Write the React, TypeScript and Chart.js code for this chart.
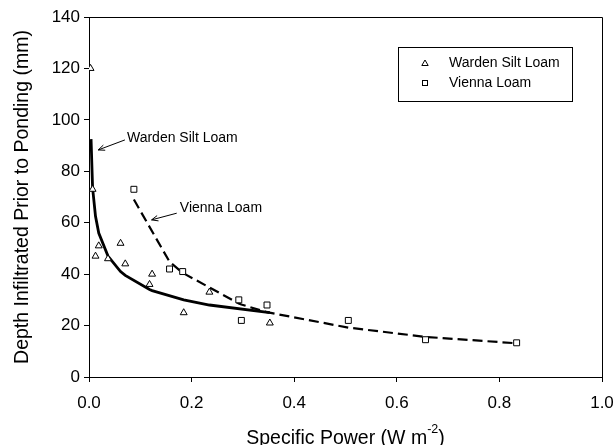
import React, { useEffect, useRef } from "react";
import { Chart, registerables } from "chart.js";

Chart.register(...registerables);

const FONT = "'Liberation Sans', Arial, sans-serif";

// Observed data
const wardenX = [0.003, 0.007, 0.0127, 0.019, 0.037, 0.0615, 0.0707, 0.118, 0.123, 0.1846, 0.2347, 0.3525];
const wardenY = [120, 73, 47, 51, 46, 52, 44, 36, 40, 25, 33, 21];
const viennaX = [0.0875, 0.157, 0.1826, 0.292, 0.297, 0.347, 0.5055, 0.656, 0.8336];
const viennaY = [73, 42, 41, 30, 22, 28, 22, 14.5, 13.3];

// Fitted curves
const wardenFitX = [0.004, 0.007, 0.0127, 0.019, 0.037, 0.0615, 0.0707, 0.118, 0.123, 0.1846, 0.2347, 0.3525];
const wardenFitY = [92.5, 73.5, 62.5, 56, 47, 41, 39.5, 34, 33.6, 30, 28, 25];
const viennaFitX = [0.0875, 0.157, 0.1826, 0.292, 0.297, 0.347, 0.5055, 0.656, 0.8336];
const viennaFitY = [69, 44.8, 40.5, 28.6, 28.2, 25.2, 19.2, 15.6, 13.1];

const seriesLabels = ["Warden Silt Loam", "Vienna Loam"];
const xTickLabels = ["0.0", "0.2", "0.4", "0.6", "0.8", "1.0"];
const yTickLabels = ["0", "20", "40", "60", "80", "100", "120", "140"];

// Annotation callouts (data units): text anchor, arrow tail, arrow tip
const calloutText = ["Warden Silt Loam", "Vienna Loam"];
const calloutTextX = [0.074, 0.177];
const calloutTextY = [93, 65.7];
const calloutTailX = [0.070, 0.171];
const calloutTailY = [92.2, 63.7];
const calloutTipX = [0.018, 0.122];
const calloutTipY = [88.3, 61.1];

const pts = (xs: number[], ys: number[]) => xs.map((x, i) => ({ x, y: ys[i] }));

const decorPlugin = {
  id: "decor",
  afterDraw(chart: any) {
    const { ctx, chartArea: ca, scales } = chart;
    const xs = scales.x;
    const ys = scales.y;
    ctx.save();
    // top and right frame
    ctx.strokeStyle = "#000";
    ctx.lineWidth = 1;
    ctx.beginPath();
    const L = Math.round(ca.left) + 0.5;
    const R = Math.round(ca.right) + 0.5;
    const T = Math.round(ca.top) + 0.5;
    const B = Math.round(ca.bottom) + 0.5;
    ctx.moveTo(L, T);
    ctx.lineTo(R, T);
    ctx.lineTo(R, B);
    ctx.stroke();

    // callouts
    ctx.fillStyle = "#000";
    ctx.font = `14px ${FONT}`;
    ctx.textBaseline = "middle";
    ctx.textAlign = "left";
    for (let i = 0; i < calloutText.length; i++) {
      const tx = xs.getPixelForValue(calloutTextX[i]);
      const ty = ys.getPixelForValue(calloutTextY[i]);
      ctx.fillText(calloutText[i], tx, ty);
      const ax = xs.getPixelForValue(calloutTailX[i]);
      const ay = ys.getPixelForValue(calloutTailY[i]);
      const bx = xs.getPixelForValue(calloutTipX[i]);
      const by = ys.getPixelForValue(calloutTipY[i]);
      ctx.beginPath();
      ctx.moveTo(ax, ay);
      ctx.lineTo(bx, by);
      const ang = Math.atan2(by - ay, bx - ax);
      const hl = 7;
      const ha = 0.4;
      ctx.moveTo(bx - hl * Math.cos(ang - ha), by - hl * Math.sin(ang - ha));
      ctx.lineTo(bx, by);
      ctx.lineTo(bx - hl * Math.cos(ang + ha), by - hl * Math.sin(ang + ha));
      ctx.stroke();
    }

    // legend box
    const lx = 398.5, ly = 47.5, lw = 174, lh = 54;
    ctx.strokeRect(lx, ly, lw, lh);
    ctx.font = `14px ${FONT}`;
    ctx.fillStyle = "#000";
    ctx.lineWidth = 1;
    const mx = 425;
    ctx.beginPath();
    ctx.moveTo(mx, 60);
    ctx.lineTo(mx + 3.2, 65.5);
    ctx.lineTo(mx - 3.2, 65.5);
    ctx.closePath();
    ctx.stroke();
    ctx.fillText(seriesLabels[0], 449, 63);
    ctx.strokeRect(mx - 2.5, 80.5, 5, 5);
    ctx.fillText(seriesLabels[1], 449, 83);

    // y axis title
    ctx.save();
    ctx.translate(23, (ca.top + ca.bottom) / 2);
    ctx.rotate(-Math.PI / 2);
    ctx.font = `19.5px ${FONT}`;
    ctx.textAlign = "center";
    ctx.textBaseline = "middle";
    ctx.fillText("Depth Infiltrated Prior to Ponding (mm)", 0, 0);
    ctx.restore();

    // x axis title with superscript
    const main = "Specific Power (W m";
    const sup = "-2";
    const close = ")";
    ctx.textBaseline = "alphabetic";
    ctx.textAlign = "left";
    ctx.font = `19.5px ${FONT}`;
    const w1 = ctx.measureText(main).width;
    const w3 = ctx.measureText(close).width;
    ctx.font = `12.5px ${FONT}`;
    const w2 = ctx.measureText(sup).width;
    const total = w1 + w2 + w3;
    let sx = (ca.left + ca.right) / 2 - total / 2;
    const base = 444;
    ctx.font = `19.5px ${FONT}`;
    ctx.fillText(main, sx, base);
    sx += w1;
    ctx.font = `12.5px ${FONT}`;
    ctx.fillText(sup, sx, base - 11);
    sx += w2;
    ctx.font = `19.5px ${FONT}`;
    ctx.fillText(close, sx, base);
    ctx.restore();
  },
};

export default function App() {
  const ref = useRef<HTMLCanvasElement | null>(null);
  useEffect(() => {
    if (!ref.current) return;
    const chart = new Chart(ref.current, {
      type: "scatter",
      data: {
        datasets: [
          {
            label: seriesLabels[0],
            data: pts(wardenX, wardenY),
            pointStyle: "triangle",
            pointRadius: 4,
            borderColor: "#000",
            backgroundColor: "#fff",
            pointBorderWidth: 1,
            showLine: false,
            order: 0,
          },
          {
            label: seriesLabels[1],
            data: pts(viennaX, viennaY),
            pointStyle: "rect",
            pointRadius: 4.2,
            borderColor: "#000",
            backgroundColor: "#fff",
            pointBorderWidth: 1,
            showLine: false,
            order: 0,
          },
          {
            label: "Warden fit",
            data: pts(wardenFitX, wardenFitY),
            showLine: true,
            pointRadius: 0,
            borderColor: "#000",
            borderWidth: 2.8,
            tension: 0,
            order: 1,
          },
          {
            label: "Vienna fit",
            data: pts(viennaFitX, viennaFitY),
            showLine: true,
            pointRadius: 0,
            borderColor: "#000",
            borderWidth: 2.2,
            borderDash: [10, 5],
            tension: 0,
            order: 1,
          },
        ],
      },
      options: {
        animation: false,
        responsive: false,
        layout: { padding: { top: 17, right: 11, left: 0, bottom: 0 } },
        plugins: { legend: { display: false }, tooltip: { enabled: false } },
        scales: {
          x: {
            type: "linear",
            min: 0,
            max: 1,
            ticks: {
              stepSize: 0.2,
              maxRotation: 0,
              padding: 11,
              color: "#000",
              font: { family: FONT, size: 17 },
              callback: (_v: any, i: number) => xTickLabels[i],
            },
            grid: { display: true, drawOnChartArea: false, tickLength: 5, tickColor: "#000", color: "#000" },
            border: { display: true, color: "#000", width: 1 },
            afterFit: (s: any) => {
              s.height = 68;
              s.paddingLeft = 0;
              s.paddingRight = 0;
            },
          },
          y: {
            type: "linear",
            min: 0,
            max: 140,
            ticks: {
              stepSize: 20,
              padding: 4,
              color: "#000",
              font: { family: FONT, size: 17 },
              callback: (_v: any, i: number) => yTickLabels[i],
            },
            grid: { display: true, drawOnChartArea: false, tickLength: 5, tickColor: "#000", color: "#000" },
            border: { display: true, color: "#000", width: 1 },
            afterFit: (s: any) => {
              s.width = 89;
              s.paddingTop = 0;
              s.paddingBottom = 0;
            },
          },
        },
      },
      plugins: [decorPlugin],
    });
    return () => chart.destroy();
  }, []);
  return (
    <div style={{ position: "fixed", left: 0, top: 0, width: 613, height: 445, background: "#fff" }}>
      <canvas ref={ref} width={613} height={445} style={{ width: 613, height: 445, display: "block" }} />
    </div>
  );
}
